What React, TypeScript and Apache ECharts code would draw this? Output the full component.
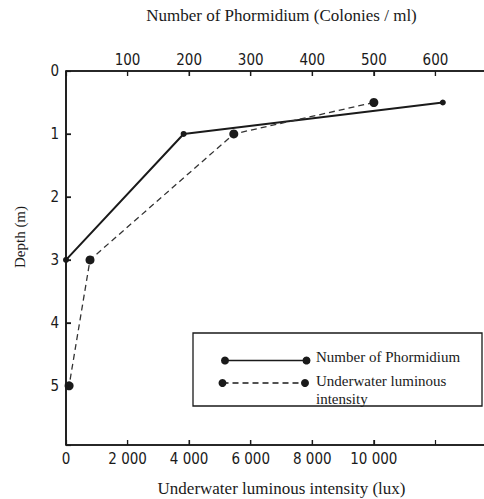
import React, { useEffect, useRef } from "react";
import * as echarts from "echarts";

// Number of Phormidium (colonies / ml) vs depth
const phormidiumDepth = [0.5, 1, 3];
const phormidiumCount = [612, 191, 0];
// Underwater luminous intensity (lux) vs depth
const luxDepth = [0.5, 1, 3, 5];
const luxValues = [10000, 5450, 780, 100];

// Tick labels shown on each axis
const topTickLabels = [100, 200, 300, 400, 500, 600];
const bottomTickLabels = [0, 2000, 4000, 6000, 8000, 10000];
const depthTickLabels = [0, 1, 2, 3, 4, 5];

const seriesNames = ["Number of Phormidium", "Underwater luminous intensity"];
const topTitle = "Number of Phormidium (Colonies / ml)";
const bottomTitle = "Underwater luminous intensity (lux)";
const yTitle = "Depth (m)";

const tickFont = "'Liberation Sans Narrow', 'DejaVu Sans Condensed', 'Liberation Sans', sans-serif";
const serif = "'Liberation Serif', 'DejaVu Serif', serif";
const ink = "#1a1a1a";

const TOP_MAX = 700;
const BOTTOM_MAX = 14000;
const DEPTH_MAX = 5.94;

// layout (pixels)
const W = 497;
const H = 499;
const G_LEFT = 66;
const G_TOP = 71;
const G_BOTTOM = 54;
const G_RIGHT = 0;

const fmtSpace = (v: number) => String(v).replace(/\B(?=(\d{3})+(?!\d))/g, " ");

const axisLine = () => ({ show: true, onZero: false, lineStyle: { color: ink, width: 1.6 } });
const axisTick = () => ({ show: true, inside: true, length: 5, lineStyle: { color: ink, width: 1.2 } });
const splitLine = () => ({ show: false });

export default function App() {
  const ref = useRef<HTMLDivElement>(null);
  useEffect(() => {
    document.body.style.margin = "0";
    document.body.style.overflow = "hidden";
    document.documentElement.style.overflow = "hidden";
    const chart = echarts.init(ref.current!, null, { renderer: "svg" });

    const gx0 = G_LEFT;
    const gx1 = W - G_RIGHT;
    const gy0 = G_TOP;
    const gy1 = H - G_BOTTOM;
    const gw = gx1 - gx0;
    const gh = gy1 - gy0;

    // axis frame + inward ticks, following the axis ranges
    const frame: any[] = [
      { type: "line", z: 50, shape: { x1: gx0, y1: gy0, x2: gx1, y2: gy0 }, style: { stroke: ink, lineWidth: 1.6 } },
      { type: "line", z: 50, shape: { x1: gx0, y1: gy1, x2: gx1, y2: gy1 }, style: { stroke: ink, lineWidth: 1.6 } },
      { type: "line", z: 50, shape: { x1: gx0, y1: gy0, x2: gx0, y2: gy1 }, style: { stroke: ink, lineWidth: 1.6 } },
    ];
    topTickLabels.forEach((v) => {
      const px = gx0 + (v / TOP_MAX) * gw;
      frame.push({ type: "line", z: 50, shape: { x1: px, y1: gy0, x2: px, y2: gy0 + 5 }, style: { stroke: ink, lineWidth: 1.2 } });
    });
    bottomTickLabels.filter((v) => v > 0).forEach((v) => {
      const px = gx0 + (v / BOTTOM_MAX) * gw;
      frame.push({ type: "line", z: 50, shape: { x1: px, y1: gy1, x2: px, y2: gy1 - 5 }, style: { stroke: ink, lineWidth: 1.2 } });
    });
    depthTickLabels.filter((v) => v > 0).forEach((d) => {
      const py = gy0 + (d / DEPTH_MAX) * gh;
      frame.push({ type: "line", z: 50, shape: { x1: gx0, y1: py, x2: gx0 + 5, y2: py }, style: { stroke: ink, lineWidth: 1.2 } });
    });

    chart.setOption({
      animation: false,
      grid: { left: G_LEFT, right: G_RIGHT, top: G_TOP, bottom: G_BOTTOM, outerBoundsMode: "none" },
      xAxis: [
        {
          type: "value",
          position: "top",
          min: 0,
          max: TOP_MAX,
          interval: 100,
          axisLine: axisLine(),
          axisTick: axisTick(),
          splitLine: splitLine(),
          axisLabel: {
            color: ink,
            fontFamily: tickFont,
            fontSize: 15,
            margin: 4,
            formatter: (v: number) => (topTickLabels.includes(v) ? String(v) : ""),
          },
        },
        {
          type: "value",
          position: "bottom",
          min: 0,
          max: BOTTOM_MAX,
          interval: 2000,
          axisLine: axisLine(),
          axisTick: axisTick(),
          splitLine: splitLine(),
          axisLabel: {
            color: ink,
            fontFamily: tickFont,
            fontSize: 15,
            margin: 6,
            formatter: (v: number) => (bottomTickLabels.includes(v) ? fmtSpace(v) : ""),
          },
        },
      ],
      yAxis: {
        type: "value",
        inverse: true,
        min: 0,
        max: DEPTH_MAX,
        interval: 1,
        axisLine: axisLine(),
        axisTick: axisTick(),
        splitLine: splitLine(),
        axisLabel: {
          color: ink,
          fontFamily: tickFont,
          fontSize: 15,
          margin: 7,
          formatter: (v: number) => (depthTickLabels.includes(v) ? String(v) : ""),
        },
      },
      series: [
        {
          name: seriesNames[0],
          type: "line",
          xAxisIndex: 0,
          data: phormidiumDepth.map((d, i) => [phormidiumCount[i], d]),
          symbol: "circle",
          symbolSize: 6,
          itemStyle: { color: ink },
          lineStyle: { color: ink, width: 2 },
        },
        {
          name: seriesNames[1],
          type: "line",
          xAxisIndex: 1,
          data: luxDepth.map((d, i) => [luxValues[i], d]),
          symbol: "circle",
          symbolSize: 9,
          itemStyle: { color: ink },
          lineStyle: { color: "#333", width: 1.3, type: [6, 4] },
        },
      ],
      graphic: [
        ...frame,
        {
          type: "text",
          style: {
            x: (gx0 + gx1) / 2,
            y: 15,
            text: topTitle,
            fontFamily: serif,
            fontSize: 17,
            fill: ink,
            align: "center",
            verticalAlign: "middle",
          },
        },
        {
          type: "text",
          style: {
            x: (gx0 + gx1) / 2,
            y: 488,
            text: bottomTitle,
            fontFamily: serif,
            fontSize: 17,
            fill: ink,
            align: "center",
            verticalAlign: "middle",
          },
        },
        {
          type: "text",
          x: 20,
          y: 237,
          rotation: Math.PI / 2,
          style: {
            x: 0,
            y: 0,
            text: yTitle,
            fontFamily: serif,
            fontSize: 15,
            fill: ink,
            align: "center",
            verticalAlign: "middle",
          },
        },
        {
          type: "rect",
          shape: { x: 193, y: 333, width: 289, height: 73 },
          style: { fill: "#fff", stroke: ink, lineWidth: 1.3 },
        },
        {
          type: "line",
          shape: { x1: 225, y1: 360.5, x2: 306.5, y2: 360.5 },
          style: { stroke: ink, lineWidth: 1.6 },
        },
        { type: "circle", shape: { cx: 225, cy: 360.5, r: 4 }, style: { fill: ink } },
        { type: "circle", shape: { cx: 306.5, cy: 360.5, r: 4 }, style: { fill: ink } },
        {
          type: "line",
          shape: { x1: 222.5, y1: 383, x2: 305, y2: 383 },
          style: { stroke: ink, lineWidth: 1.6, lineDash: [6, 4] },
        },
        { type: "circle", shape: { cx: 222.5, cy: 383, r: 4 }, style: { fill: ink } },
        { type: "circle", shape: { cx: 305, cy: 383, r: 4 }, style: { fill: ink } },
        {
          type: "text",
          style: {
            x: 316,
            y: 357,
            text: seriesNames[0],
            fontFamily: serif,
            fontSize: 15,
            fill: ink,
            verticalAlign: "middle",
          },
        },
        {
          type: "text",
          style: {
            x: 316,
            y: 372,
            text: "Underwater luminous\nintensity",
            fontFamily: serif,
            fontSize: 15,
            lineHeight: 18,
            fill: ink,
            verticalAlign: "top",
          },
        },
      ],
    });
    return () => chart.dispose();
  }, []);
  return <div ref={ref} style={{ width: W, height: H, background: "#fff" }} />;
}
